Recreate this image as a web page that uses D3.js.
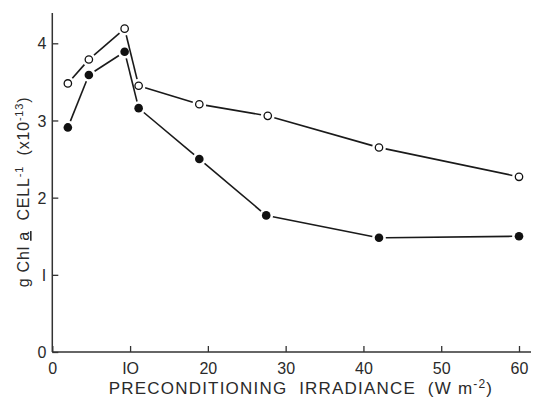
<!DOCTYPE html>
<html>
<meta charset="utf-8">
<style>
  body {margin:0; background:#fff;}
  text {font-family: "Liberation Sans", "DejaVu Sans", sans-serif; fill:#2a2a2a; white-space: pre;}
</style>
<body>
<svg id="svg1" width="534" height="400"></svg>
<script src="https://cdn.jsdelivr.net/npm/d3@7"></script>
<script>
// irradiance (W m-2)
var xOpen=[2,4.7,9.3,11.1,18.9,27.7,42,60];
var yOpen=[3.48,3.79,4.19,3.45,3.21,3.06,2.65,2.27];
var xFilled=[2,4.7,9.3,11.1,18.9,27.5,42,60];
var yFilled=[2.91,3.59,3.89,3.16,2.50,1.77,1.48,1.50];
var xTicks=[0,10,20,30,40,50,60];
var xTickLabels=["0","IO","20","30","40","50","60"];
var yTicks=[0,1,2,3,4];
var yTickLabels=["0","I","2","3","4"];

var svg=d3.select("#svg1");
var x=d3.scaleLinear().domain([0,60]).range([52.3,519]);
var y=d3.scaleLinear().domain([0,4]).range([352,43.3]);

// axes
var xAxis=d3.axisBottom(x).tickValues(xTicks).tickSize(-6).tickPadding(8)
	.tickFormat(function(d,i){return xTickLabels[i]});
var yAxis=d3.axisLeft(y).tickValues(yTicks).tickSize(-6).tickPadding(6)
	.tickFormat(function(d,i){return yTickLabels[i]});

var gx=svg.append("g").attr("transform","translate(0,352)").call(xAxis);
gx.select(".domain").attr("d","M52.3,0H531").attr("stroke","#333").attr("stroke-width",1.5);
gx.selectAll("text").attr("font-size",16).attr("dy","0.9em");

var gy=svg.append("g").attr("transform","translate(52.3,0)").call(yAxis);
gy.select(".domain").attr("d","M0,352V13").attr("stroke","#333").attr("stroke-width",1.5);
gy.selectAll("text").attr("font-size",16).attr("dy","0.35em");
svg.selectAll(".tick line").attr("stroke","#333").attr("stroke-width",1.3);

// axis titles
var xt=svg.append("text").attr("x",301).attr("y",394).attr("text-anchor","middle")
	.attr("font-size",17).attr("letter-spacing","1.2");
xt.append("tspan").text("PRECONDITIONING  IRRADIANCE  (W m");
xt.append("tspan").attr("dy",-6).attr("font-size",12).text("-2");
xt.append("tspan").attr("dy",6).text(")");

var yt=svg.append("text").attr("transform","translate(29,192) rotate(-90)")
	.attr("text-anchor","middle").attr("font-size",16).attr("letter-spacing","0.8");
yt.append("tspan").text("g Chl ");
yt.append("tspan").attr("text-decoration","underline").text("a");
yt.append("tspan").text("  CELL");
yt.append("tspan").attr("dy",-6).attr("font-size",11).text("-1");
yt.append("tspan").attr("dy",6).text("  (x10");
yt.append("tspan").attr("dy",-6).attr("font-size",11).text("-13");
yt.append("tspan").attr("dy",6).text(")");

// series: lines with small gaps at markers
var r=4.3;
function drawSeries(xs,ys,filled) {
	var pts=xs.map(function(v,i){return [x(v),y(ys[i])]});
	var segs=[];
	for (var i=0;i<pts.length-1;i++) {
		var a=pts[i],b=pts[i+1];
		var dx=b[0]-a[0],dy=b[1]-a[1],L=Math.sqrt(dx*dx+dy*dy);
		var g=r+2.5;
		segs.push([a[0]+dx/L*g,a[1]+dy/L*g,b[0]-dx/L*g,b[1]-dy/L*g]);
	}
	svg.append("g").selectAll("line").data(segs).enter().append("line")
		.attr("x1",function(d){return d[0]}).attr("y1",function(d){return d[1]})
		.attr("x2",function(d){return d[2]}).attr("y2",function(d){return d[3]})
		.attr("stroke","#1a1a1a").attr("stroke-width",1.6);
	svg.append("g").selectAll("circle").data(pts).enter().append("circle")
		.attr("cx",function(d){return d[0]}).attr("cy",function(d){return d[1]})
		.attr("r",filled?r:r-0.6)
		.attr("fill",filled?"#111":"#fff")
		.attr("stroke","#111").attr("stroke-width",filled?0:1.3);
}
drawSeries(xOpen,yOpen,false);
drawSeries(xFilled,yFilled,true);
</script>
</body>
</html>
